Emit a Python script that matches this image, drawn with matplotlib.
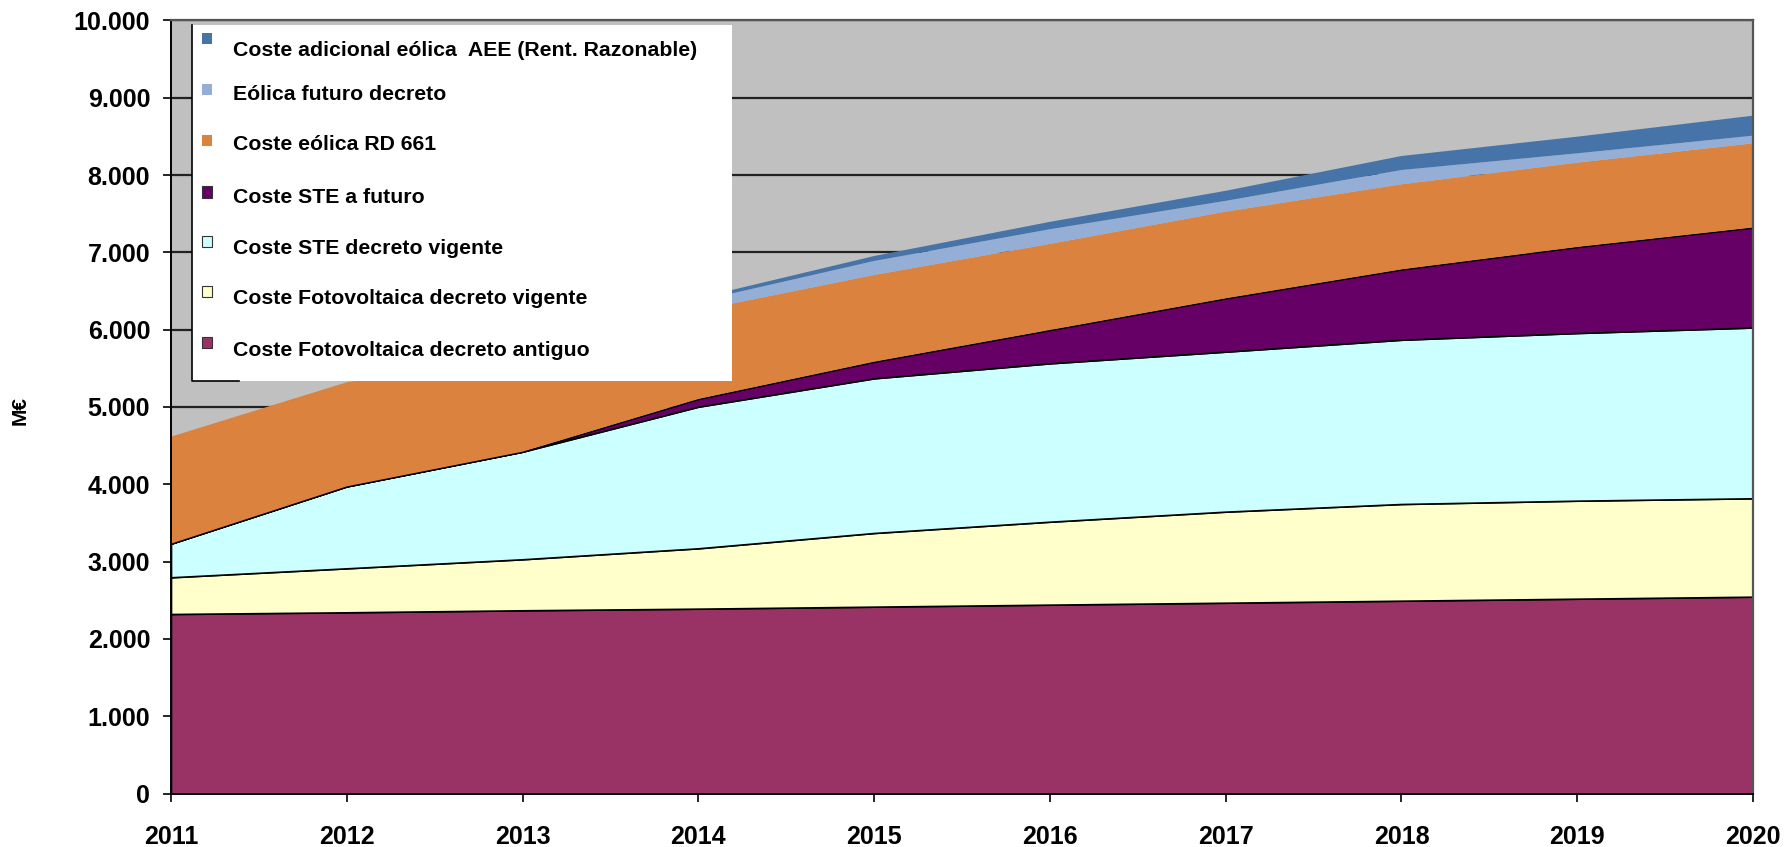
import matplotlib
matplotlib.use('Agg')
import matplotlib.pyplot as plt
import matplotlib.ticker as ticker
from matplotlib import font_manager
from matplotlib.patches import Rectangle

# Datos (M€) por año
years = [2011, 2012, 2013, 2014, 2015, 2016, 2017, 2018, 2019, 2020]
fv_antiguo = [2322, 2344, 2370, 2391, 2417, 2443, 2468, 2494, 2520, 2546]
fv_vigente = [475, 569, 660, 781, 953, 1073, 1178, 1251, 1268, 1273]
ste_vigente = [435, 1060, 1392, 1832, 2001, 2049, 2070, 2125, 2169, 2209]
ste_futuro = [0, 0, 0, 100, 215, 431, 690, 910, 1113, 1294]
eolica_rd661 = [1384, 1347, 1248, 1146, 1122, 1114, 1121, 1101, 1091, 1089]
eolica_futuro = [0, 0, 40, 120, 181, 190, 140, 185, 121, 99]
coste_aee = [0, 0, 10, 40, 64, 95, 130, 181, 215, 259]

labels = ['Coste Fotovoltaica decreto antiguo',
          'Coste Fotovoltaica decreto vigente',
          'Coste STE decreto vigente',
          'Coste STE a futuro',
          'Coste eólica RD 661',
          'Eólica futuro decreto',
          'Coste adicional eólica  AEE (Rent. Razonable)']
colors = ['#993366', '#FFFFCC', '#CCFFFF', '#660066', '#DA823E', '#95AED6', '#4674A9']
bordered = [True, True, True, True, False, False, False]

installed = {f.name for f in font_manager.fontManager.ttflist}
tick_family = 'Liberation Sans Narrow' if 'Liberation Sans Narrow' in installed else 'Liberation Sans'
tick_size = 20 if tick_family == 'Liberation Sans Narrow' else 18

W, H = 1785, 847
fig = plt.figure(figsize=(W / 100, H / 100), dpi=100)
ax_l, ax_r, ax_t, ax_b = 171, 1753, 20.5, 793.5
ax = fig.add_axes([ax_l / W, 1 - ax_b / H, (ax_r - ax_l) / W, (ax_b - ax_t) / H])
ax.set_facecolor('#C0C0C0')

series = [fv_antiguo, fv_vigente, ste_vigente, ste_futuro, eolica_rd661, eolica_futuro, coste_aee]
polys = ax.stackplot(years, *series, colors=colors, labels=labels, zorder=2)
for p, b in zip(polys, bordered):
    if b:
        p.set_edgecolor('black')
        p.set_linewidth(1.2)
    else:
        p.set_edgecolor('none')

ax.set_xlim(2011, 2020)
ax.set_ylim(0, 10000)
ax.set_xticks(years)
ax.set_yticks(range(0, 10001, 1000))
ax.yaxis.set_major_formatter(ticker.FuncFormatter(lambda x, p: format(int(x), ',').replace(',', '.')))
ax.grid(axis='y', color='#222222', linewidth=1.6, zorder=1)
ax.set_axisbelow(True)

for lab in ax.get_xticklabels() + ax.get_yticklabels():
    lab.set_family(tick_family)
    lab.set_fontweight('bold')
    lab.set_fontsize(tick_size)
ax.tick_params(axis='x', length=6, width=1.2, pad=17, direction='out')
ax.tick_params(axis='y', length=6, width=1.2, pad=9, direction='out')

for side in ['left', 'bottom']:
    ax.spines[side].set_color('black')
    ax.spines[side].set_linewidth(1.4)
for side in ['top', 'right']:
    ax.spines[side].set_color('#555555')
    ax.spines[side].set_linewidth(1.6)

fig.text(20 / W, 1 - 410 / H, 'M€', rotation=90, ha='center', va='center',
         fontsize=15, fontweight='bold', family='Liberation Sans')

# Leyenda (estilo Excel) en píxeles de la figura
def px(x, y):
    return ((x - ax_l) / (ax_r - ax_l), (ax_b - y) / (ax_b - ax_t))

bx0, by0 = px(192, 381)
bx1, by1 = px(732, 25)
ax.add_patch(Rectangle((bx0, by0), bx1 - bx0, by1 - by0, transform=ax.transAxes,
                       facecolor='white', edgecolor='none', zorder=5))
ax.plot([bx0, bx0, bx0 + 0.03], [by1, by0, by0], transform=ax.transAxes,
        color='black', lw=1.2, zorder=6, clip_on=False)

text_rows = [51, 94, 145, 197, 248, 299, 350]
mark_rows = [39, 90, 141, 192, 242, 292, 343]
for i, k in enumerate(range(len(labels) - 1, -1, -1)):
    mx0, my0 = px(202, mark_rows[i] + 5.5)
    mx1, my1 = px(212, mark_rows[i] - 5.5)
    ax.add_patch(Rectangle((mx0, my0), mx1 - mx0, my1 - my0, transform=ax.transAxes,
                           facecolor=colors[k],
                           edgecolor='#333333' if bordered[k] else 'none',
                           lw=0.8, zorder=7))
    tx, ty = px(233, text_rows[i])
    ax.text(tx, ty, labels[k], transform=ax.transAxes, ha='left', va='center',
            fontsize=15.3, fontweight='bold', family='Liberation Sans', zorder=7)

plt.savefig('out.png', dpi=100)
